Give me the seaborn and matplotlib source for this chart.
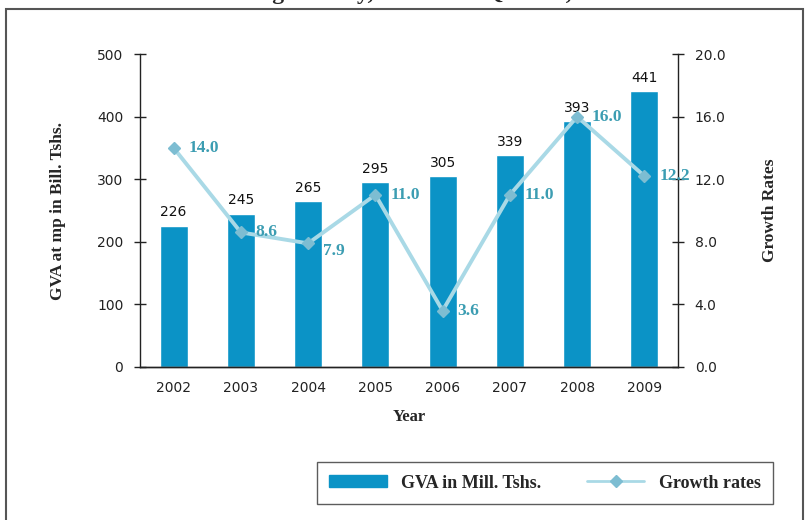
import numpy as np
import pandas as pd
import matplotlib
matplotlib.use("Agg")
import matplotlib.pyplot as plt
import seaborn as sns
from matplotlib.patches import Rectangle, Patch
from matplotlib.lines import Line2D

# data
years = ["2002", "2003", "2004", "2005", "2006", "2007", "2008", "2009"]
gva = [226, 245, 265, 295, 305, 339, 393, 441]
growth = [14.0, 8.6, 7.9, 11.0, 3.6, 11.0, 16.0, 12.2]

BAR_COLOR = "#0B93C6"
LINE_COLOR = "#A9D9E6"
MARK_COLOR = "#7DBDD2"
LABEL_COLOR = "#3C9DB2"
SERIF = "Liberation Serif"

sns.set_theme(style="white")
plt.rcParams["font.family"] = ["DejaVu Sans"]

df = pd.DataFrame({"Year": years, "GVA": gva, "Growth": growth})

fig = plt.figure(figsize=(8.09, 5.2), dpi=100)
ax = fig.add_axes([140 / 809, 1 - 367 / 520, 538 / 809, 313 / 520])

# outer frame
fig.patches.append(Rectangle((6 / 809, -0.1), 797 / 809, 1.1 - 9 / 520, transform=fig.transFigure,
                             fill=False, edgecolor="#555555", linewidth=1.5))
# title is cropped at the top edge in the original picture
fig.text(0.5, 1.012, "Manufacturing Activity, Real GVA Quarter, 2002-2009", ha="center", va="center",
         fontsize=17, fontweight="bold", family=SERIF)

sns.barplot(data=df, x="Year", y="GVA", color=BAR_COLOR, width=0.42, ax=ax, saturation=1)
ax.set_xlim(-0.5, 7.5)
ax.set_ylim(0, 500)
ax.set_yticks(range(0, 501, 100))
for i, v in enumerate(gva):
    ax.text(i, v + 10, str(v), ha="center", va="bottom", fontsize=10, color="#111111")

ax2 = ax.twinx()
ax2.plot(range(len(years)), growth, color=LINE_COLOR, linewidth=2.8, marker="D", markersize=6,
         markerfacecolor=MARK_COLOR, markeredgecolor=MARK_COLOR)
ax2.set_ylim(0, 20)
ax2.set_yticks(np.arange(0, 20.1, 4))
ax2.set_yticklabels([f"{t:.1f}" for t in np.arange(0, 20.1, 4)])
dys = [0, 0, -0.5, 0, 0, 0, 0, 0]
for i, v in enumerate(growth):
    ax2.text(i + 0.22, v + dys[i], f"{v:.1f}", ha="left", va="center", fontsize=12.5,
             fontweight="bold", color=LABEL_COLOR, family=SERIF)

for a in (ax, ax2):
    a.spines["top"].set_visible(False)
    for s in ("left", "right", "bottom"):
        a.spines[s].set_color("#222222")
        a.spines[s].set_linewidth(1.0)
    a.tick_params(axis="y", direction="inout", length=8, width=1, color="#222222", labelsize=10,
                  labelcolor="#222222", pad=8)
ax.spines["right"].set_visible(False)
ax2.spines["left"].set_visible(False)
ax.tick_params(axis="x", length=0, labelsize=10, labelcolor="#222222", pad=10)

ax.set_xlabel("Year", fontsize=12, fontweight="bold", family=SERIF, labelpad=10)
ax.set_ylabel("GVA at mp in Bill. Tshs.", fontsize=12.5, fontweight="bold", family=SERIF, labelpad=22)
ax2.set_ylabel("Growth Rates", fontsize=12.5, fontweight="bold", family=SERIF, labelpad=26)

handles = [Patch(facecolor=BAR_COLOR, edgecolor=BAR_COLOR),
           Line2D([0], [0], color=LINE_COLOR, linewidth=2, marker="D", markersize=6,
                  markerfacecolor=MARK_COLOR, markeredgecolor=MARK_COLOR)]
leg = fig.legend(handles, ["GVA in Mill. Tshs.", "Growth rates"], loc="center",
                 bbox_to_anchor=(545 / 809, 1 - 483 / 520), ncol=2, frameon=True, fancybox=False,
                 prop={"family": SERIF, "weight": "bold", "size": 13}, handlelength=3.2,
                 columnspacing=2.5, borderpad=0.7, handleheight=0.6)
leg.get_frame().set_edgecolor("#333333")
leg.get_frame().set_linewidth(1.0)

fig.savefig("out.png", dpi=100)
